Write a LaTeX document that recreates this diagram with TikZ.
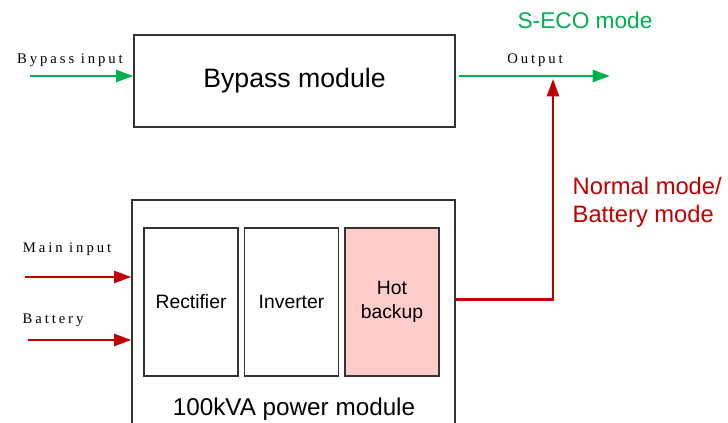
\documentclass[tikz,border=0pt]{standalone}
\usepackage{fontspec}
\setmainfont{Liberation Sans}
\newfontfamily\tagfont[LetterSpace=20]{Liberation Serif}
\usepackage{xcolor}
\usepackage{tikz}
\usetikzlibrary{arrows.meta, positioning}

\definecolor{ecogreen}{HTML}{00B050}
\definecolor{normred}{HTML}{C00000}
\definecolor{hotpink}{HTML}{FFCCCC}
\definecolor{boxgray}{HTML}{333333}

\begin{document}
\begin{tikzpicture}[x=0.75pt, y=-0.75pt, >={Triangle[length=13pt,width=9pt]},
    module/.style={draw=boxgray, line width=1pt, inner sep=0pt},
    part/.style={module, minimum width=70.5pt, minimum height=111pt, align=center,
        font=\fontsize{14.5}{17.5}\selectfont},
    tag/.style={font=\tagfont\fontsize{11}{13}\selectfont, inner sep=0pt},
    flow/.style={->, line width=1.9pt}]
    \useasboundingbox (0,0) rectangle (728,423);
    \clip (0,0) rectangle (728,423);

    \node[module, minimum width=240.75pt, minimum height=69pt,
        font=\fontsize{20}{24}\selectfont] (bypass) at (294.5,81) {Bypass module};
    \node[module, minimum width=242.25pt, minimum height=187.5pt] (power) at (293.5,325) {};
    \node[part] (rect) at (191,302) {Rectifier};
    \node[part] (inv) at (291.5,302) {Inverter};
    \node[part, fill=hotpink] (hot) at (392,302) {Hot\\backup};
    \node[font=\fontsize{18.2}{22}\selectfont] (pmlabel) at (294,409) {100kVA power module};

    \node[ecogreen, font=\fontsize{17}{20}\selectfont] (eco) at (585,20) {S-ECO mode};
    \node[normred, anchor=west, align=left, font=\fontsize{17.8}{21}\selectfont] (normal) at (568,202)
        {Normal mode/\\Battery mode};

    \node[tag] (bintag) at (70,60) {Bypass input};
    \node[tag] (outtag) at (535,60) {Output};
    \node[tag] (mintag) at (67,249) {Main input};
    \node[tag] (battag) at (53,320) {Battery};

    \coordinate (bin) at (30,76);
    \coordinate (out) at (610,76);
    \coordinate (min) at (25,277);
    \coordinate (bat) at (28,340);
    \coordinate (join) at (553,79);

    \draw[flow, ecogreen] (bin) -- (bypass.west |- bin);
    \draw[flow, ecogreen] ([xshift=2.5pt]bypass.east |- out) -- (out);
    \draw[flow, normred] (min) -- (power.west |- min);
    \draw[flow, normred] (bat) -- (power.west |- bat);
    \draw[flow, normred] ([yshift=2pt]power.east |- hot.east) -| (join);
\end{tikzpicture}
\end{document}
